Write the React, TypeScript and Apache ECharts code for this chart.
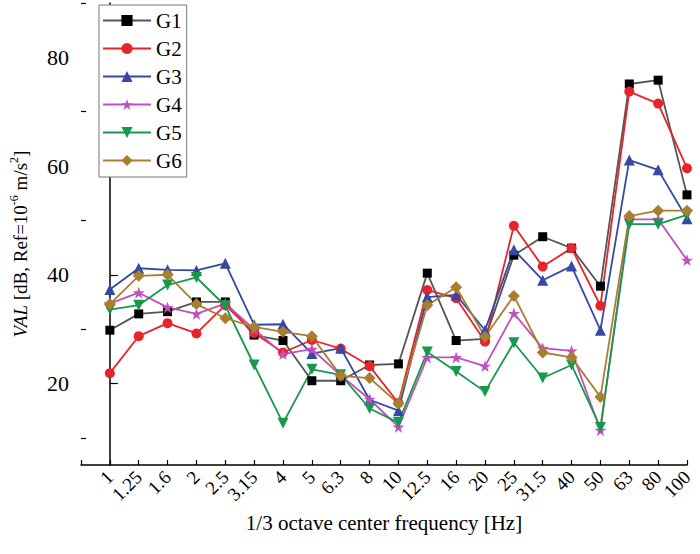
import React, { useEffect, useRef } from "react";
import * as echarts from "echarts";

const categories = ["1", "1.25", "1.6", "2", "2.5", "3.15", "4", "5", "6.3", "8", "10", "12.5", "16", "20", "25", "31.5", "40", "50", "63", "80", "100"];

const G1 = [29.8, 32.8, 33.2, 35.0, 35.0, 28.9, 27.9, 20.5, 20.5, 23.4, 23.6, 40.3, 27.9, 28.2, 43.6, 47.0, 44.9, 37.9, 75.1, 75.8, 54.7];
const G2 = [21.9, 28.7, 31.1, 29.2, 34.4, 29.3, 25.7, 28.0, 26.4, 23.2, 16.4, 37.2, 35.7, 27.7, 49.0, 41.5, 44.9, 34.3, 73.7, 71.5, 59.6];
const G3 = [37.3, 41.2, 40.9, 40.8, 42.1, 30.8, 30.9, 25.5, 26.5, 17.0, 15.0, 35.9, 36.3, 29.8, 44.6, 39.0, 41.6, 29.8, 61.1, 59.3, 50.3];
const G4 = [34.7, 36.7, 34.0, 32.8, 34.7, 30.0, 25.4, 26.3, 21.5, 17.1, 12.0, 24.8, 24.8, 23.2, 32.9, 26.5, 26.0, 11.4, 50.2, 50.2, 42.7];
const G5 = [33.6, 34.4, 38.1, 39.5, 34.3, 23.4, 12.7, 22.6, 21.6, 15.4, 12.8, 25.8, 22.2, 18.5, 27.5, 21.0, 23.4, 11.9, 49.3, 49.3, 51.0];
const G6 = [34.6, 39.8, 40.0, 34.6, 32.0, 30.4, 29.5, 28.7, 21.4, 21.0, 16.3, 34.4, 37.7, 28.6, 36.1, 25.7, 24.8, 17.5, 50.8, 51.8, 51.8];

const yMajorTicks = [20, 40, 60, 80];
const yMinorTicks = [10, 30, 50, 70, 90];

const FONT = "'Liberation Serif', 'Times New Roman', serif";
const STAR = "path://M50,0 L62,36 L100,36 L69,58 L81,95 L50,72 L19,95 L31,58 L0,36 L38,36 Z";

export default function App() {
  const ref = useRef<HTMLDivElement>(null);
  useEffect(() => {
    if (!ref.current) return;
    const chart = echarts.init(ref.current, null, { renderer: "svg" });
    const mk = (name: string, data: number[], color: string, lineColor: string, symbol: string, size: number, rotate = 0) => ({
      name,
      type: "line",
      data: data.map((v, i) => [i, v]),
      symbol,
      symbolSize: size,
      symbolRotate: rotate,
      showAllSymbol: true,
      lineStyle: { color: lineColor, width: 1.8 },
      itemStyle: { color, borderWidth: 0 },
      emphasis: { disabled: true },
    });
    chart.setOption({
      animation: false,
      grid: { left: 75.5, right: 13, top: 3, bottom: 89, containLabel: false },
      legend: {
        orient: "vertical",
        left: 99,
        top: 5,
        padding: [5, 5, 6, 3],
        itemWidth: 48,
        itemHeight: 14,
        itemGap: 7,
        borderColor: "#777",
        borderWidth: 1,
        backgroundColor: "#fff",
        textStyle: { fontFamily: FONT, fontSize: 21, color: "#000" },
        data: ["G1", "G2", "G3", "G4", "G5", "G6"],
      },
      xAxis: {
        type: "value",
        min: -1,
        max: 20,
        interval: 1,
        splitLine: { show: false },
        axisLine: { lineStyle: { color: "#000", width: 1.5 } },
        axisTick: { inside: true, length: 5, lineStyle: { color: "#000", width: 1.2 } },
        axisLabel: {
          rotate: 45,
          margin: 9,
          fontFamily: FONT,
          fontSize: 19,
          color: "#000",
          formatter: (v: number) => (v >= 0 && v < categories.length ? categories[Math.round(v)] : ""),
        },
        name: "1/3 octave center frequency [Hz]",
        nameLocation: "middle",
        nameGap: 47,
        nameTextStyle: { fontFamily: FONT, fontSize: 21, color: "#000" },
      },
      yAxis: [
        {
          type: "value",
          min: 5,
          max: 90,
          position: "left",
          splitLine: { show: false },
          axisLine: { show: true, lineStyle: { color: "#000", width: 1.5 } },
          axisTick: { inside: true, length: 8, customValues: yMajorTicks, lineStyle: { color: "#000", width: 1.2 } },
          axisLabel: { customValues: yMajorTicks, margin: 12, fontFamily: FONT, fontSize: 22, color: "#000" },
          name: "{i|VAL} {n|[dB, Ref=10}{s|-6}{n| m/s}{s|2}{n|]}",
          nameLocation: "middle",
          nameRotate: 90,
          nameGap: 51,
          nameTextStyle: {
            fontFamily: FONT,
            fontSize: 19,
            color: "#000",
            padding: [0, 20, 0, 0],
            rich: {
              i: { fontFamily: FONT, fontSize: 19, fontStyle: "italic", color: "#000", lineHeight: 22, verticalAlign: "bottom" },
              n: { fontFamily: FONT, fontSize: 19, color: "#000", lineHeight: 22, verticalAlign: "bottom" },
              s: { fontFamily: FONT, fontSize: 12, color: "#000", lineHeight: 22, verticalAlign: "top" },
            },
          },
        },
        {
          type: "value",
          min: 5,
          max: 90,
          position: "left",
          offset: 0,
          splitLine: { show: false },
          axisLine: { show: false },
          axisTick: { show: true, inside: true, length: 5, customValues: yMinorTicks, lineStyle: { color: "#000", width: 1.2 } },
          axisLabel: { show: false },
        },
      ],
      series: [
        mk("G1", G1, "#000000", "#555555", "rect", 9),
        mk("G2", G2, "#e8232b", "#e8232b", "circle", 10),
        mk("G3", G3, "#3349a3", "#3349a3", "triangle", 11),
        mk("G4", G4, "#c24fc0", "#c24fc0", STAR, 12),
        mk("G5", G5, "#16994a", "#16994a", "triangle", 11, 180),
        mk("G6", G6, "#a87f2e", "#a87f2e", "diamond", 12),
      ],
    });
    return () => chart.dispose();
  }, []);
  return <div ref={ref} style={{ position: "fixed", left: 0, top: 0, width: 700, height: 554, background: "#fff" }} />;
}
